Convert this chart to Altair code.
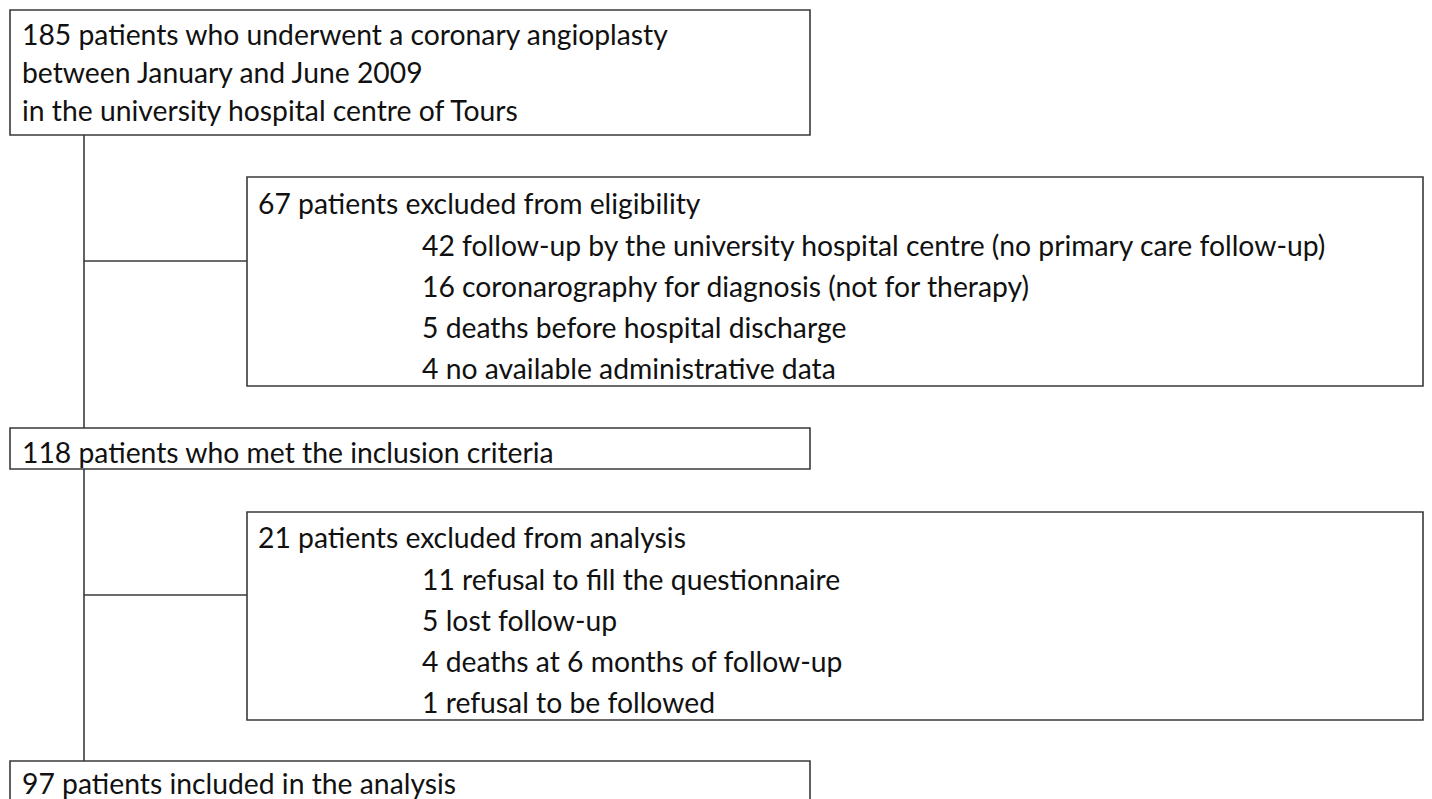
import altair as alt
import pandas as pd

# ---- content ----
box1_lines = [
    "185 patients who underwent a coronary angioplasty",
    "between January and June 2009",
    "in the university hospital centre of Tours",
]
box2_title = "67 patients excluded from eligibility"
box2_items = [
    "42 follow-up by the university hospital centre (no primary care follow-up)",
    "16 coronarography for diagnosis (not for therapy)",
    "5 deaths before hospital discharge",
    "4 no available administrative data",
]
box3_lines = ["118 patients who met the inclusion criteria"]
box4_title = "21 patients excluded from analysis"
box4_items = [
    "11 refusal to fill the questionnaire",
    "5 lost follow-up",
    "4 deaths at 6 months of follow-up",
    "1 refusal to be followed",
]
box5_lines = ["97 patients included in the analysis"]

# ---- layout (screen pixel coordinates) ----
W, H = 1416, 791
OFF = 8
FONT = "Lato"
FS = 28.3
LINE_COLOR = "#3a3a3a"

boxes = pd.DataFrame([
    dict(x=10, x2=810, y=10, y2=135),
    dict(x=247, x2=1423, y=177, y2=386),
    dict(x=10, x2=810, y=428, y2=469),
    dict(x=247, x2=1423, y=512, y2=720),
    dict(x=10, x2=810, y=761, y2=830),
])

rules = pd.DataFrame([
    dict(x=84, x2=84, y=135, y2=761),
    dict(x=84, x2=247, y=261, y2=261),
    dict(x=84, x2=247, y=595, y2=595),
])

texts = []
for i, t in enumerate(box1_lines):
    texts.append(dict(x=22, y=45 + 38 * i, t=t))
texts.append(dict(x=258, y=214, t=box2_title))
for i, t in enumerate(box2_items):
    texts.append(dict(x=422, y=255.5 + 41 * i, t=t))
for t in box3_lines:
    texts.append(dict(x=22, y=462.5, t=t))
texts.append(dict(x=258, y=548, t=box4_title))
for i, t in enumerate(box4_items):
    texts.append(dict(x=422, y=589.5 + 41 * i, t=t))
for t in box5_lines:
    texts.append(dict(x=22, y=794, t=t))
texts = pd.DataFrame(texts)

xs = alt.Scale(domain=[OFF, OFF + W], nice=False, zero=False)
ys = alt.Scale(domain=[OFF, OFF + H], nice=False, zero=False, reverse=True)

X = lambda f: alt.X(f, type="quantitative", scale=xs, axis=None)
Y = lambda f: alt.Y(f, type="quantitative", scale=ys, axis=None)

rule_layer = alt.Chart(rules).mark_rule(color=LINE_COLOR, strokeWidth=1.6, clip=True).encode(
    x=X("x"), x2="x2", y=Y("y"), y2="y2"
)
box_layer = alt.Chart(boxes).mark_rect(
    fill="white", stroke=LINE_COLOR, strokeWidth=1.6, clip=True
).encode(x=X("x"), x2="x2", y=Y("y"), y2="y2")
text_layer = alt.Chart(texts).mark_text(
    align="left", baseline="alphabetic", font=FONT, fontSize=FS, color="#111111", clip=True
).encode(x=X("x"), y=Y("y"), text="t:N")

chart = alt.layer(rule_layer, box_layer, text_layer).properties(
    width=W, height=H, padding=0, background="white"
).configure_view(strokeWidth=0)

chart.save("out.html", embed_options={"renderer": "svg", "actions": False})
